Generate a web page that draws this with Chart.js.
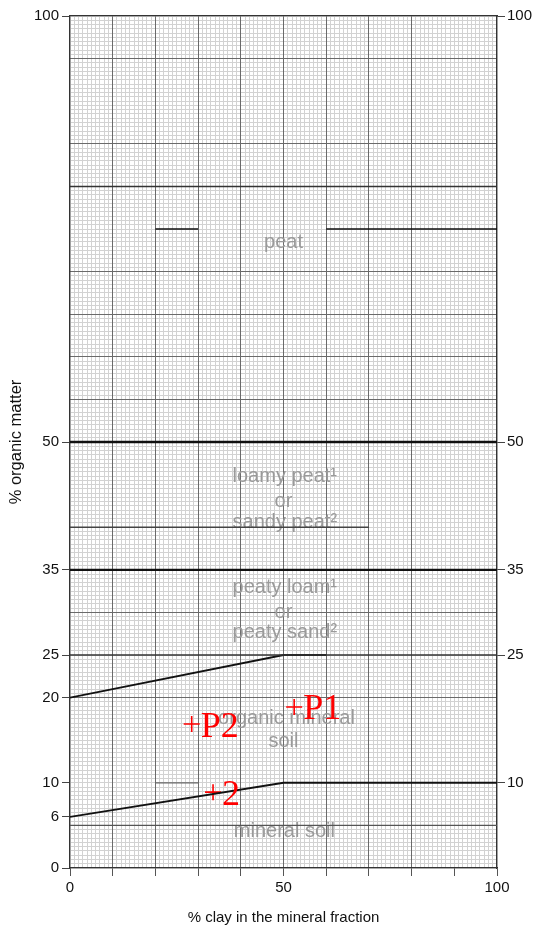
<!DOCTYPE html>
<html>
<head>
<meta charset="utf-8">
<script src="https://cdn.jsdelivr.net/npm/chart.js@4.4.1/dist/chart.umd.min.js"></script>
<style>
html,body{margin:0;padding:0;background:#fff;}
canvas{display:block;}
</style>
</head>
<body>
<canvas id="c" width="534" height="927" style="width:534px;height:927px"></canvas>
<script>
// ---------- data ----------
const xTickValues = [0, 10, 20, 30, 40, 50, 60, 70, 80, 90, 100];
const xLabelValues = [0, 50, 100];
const yLeftTicks = [0, 6, 10, 20, 25, 35, 50, 100];
const yRightTicks = [10, 25, 35, 50, 100];
const gridMediumX = [10, 20, 30, 40, 50, 60, 70, 80];
const gridMediumY = [5, 20, 30, 55, 60, 65, 70, 80, 85, 95];

// class boundaries (x = % clay, y = % organic matter)
const upperBoundX = [0, 50, 60];
const upperBoundY = [20, 25, 25];
const lowerBoundX = [0, 50, 100];
const lowerBoundY = [6, 10, 10];
const level50X = [0, 100];
const level50Y = [50, 50];
const level35X = [0, 100];
const level35Y = [35, 35];
const level25X = [0, 100];
const level25Y = [25, 25];
const level80X = [0, 100];
const level80Y = [80, 80];
const level75X = [20, 30, 45, 60, 100];
const level75Y = [75, 75, null, 75, 75];
const level40X = [0, 70];
const level40Y = [40, 40];
const level10X = [20, 30];
const level10Y = [10, 10];
const level5X = [0, 100];
const level5Y = [5, 5];

// sample points
const sampleNames = ['P1', 'P2', '2'];
const sampleClay = [52.5, 28.5, 33.5];
const sampleOM = [18.9, 16.9, 8.9];

// region labels
const regionText = ['peat', 'loamy peat\u00b9', 'or', 'sandy peat\u00b2', 'peaty loam\u00b9', 'or', 'peaty sand\u00b2', 'organic mineral', 'soil', 'mineral soil'];
const regionX = [50, 50.3, 50, 50.3, 50.3, 50, 50.3, 50.7, 50, 50.2];
const regionY = [73.4, 45.9, 43.0, 40.5, 32.9, 30.0, 27.6, 17.6, 14.9, 4.3];

// ---------- chart ----------
const SANS = "'Liberation Sans', Arial, sans-serif";
const SERIF = "'Liberation Serif', 'Times New Roman', serif";

function pts(xs, ys) { return xs.map((x, i) => ({ x: x, y: ys[i] })); }
function lineDs(xs, ys, color, width) {
  return { type: 'line', data: pts(xs, ys), borderColor: color, borderWidth: width,
    pointRadius: 0, fill: false, tension: 0, spanGaps: false, xAxisID: 'x', yAxisID: 'y' };
}

const regionLabelPlugin = {
  id: 'regionLabels',
  beforeDatasetsDraw(chart) {
    const ctx = chart.ctx, sx = chart.scales.x, sy = chart.scales.y;
    ctx.save();
    ctx.font = '20px ' + SANS;
    ctx.fillStyle = '#9a9a9a';
    ctx.textAlign = 'center';
    ctx.textBaseline = 'middle';
    regionText.forEach((t, i) => {
      ctx.fillText(t, sx.getPixelForValue(regionX[i]), sy.getPixelForValue(regionY[i]));
    });
    ctx.restore();
  }
};

const sampleLabelPlugin = {
  id: 'sampleLabels',
  afterDatasetsDraw(chart) {
    const ctx = chart.ctx, sx = chart.scales.x, sy = chart.scales.y;
    ctx.save();
    ctx.font = '36px ' + SERIF;
    ctx.fillStyle = '#ff0000';
    ctx.textAlign = 'left';
    ctx.textBaseline = 'alphabetic';
    sampleNames.forEach((n, i) => {
      ctx.fillText(n, sx.getPixelForValue(sampleClay[i]) + 9, sy.getPixelForValue(sampleOM[i]) + 12.5);
    });
    ctx.restore();
  }
};

const tickFont = { family: SANS, size: 15 };

new Chart(document.getElementById('c'), {
  type: 'scatter',
  data: {
    datasets: [
      lineDs(level5X, level5Y, '#555555', 1.3),
      lineDs(level10X, level10Y, '#666666', 1.2),
      lineDs(level40X, level40Y, '#444444', 1.4),
      lineDs(level80X, level80Y, '#333333', 1.5),
      lineDs(level25X, level25Y, '#333333', 1.6),
      lineDs(level75X, level75Y, '#111111', 1.6),
      lineDs(level35X, level35Y, '#111111', 2.2),
      lineDs(level50X, level50Y, '#111111', 2.4),
      lineDs(upperBoundX, upperBoundY, '#111111', 1.9),
      lineDs(lowerBoundX, lowerBoundY, '#111111', 1.9),
      { type: 'scatter', data: pts(sampleClay, sampleOM), pointStyle: 'cross', pointRadius: 8,
        pointBorderColor: '#ff0000', borderColor: '#ff0000', pointBorderWidth: 1.6, borderWidth: 1.6,
        backgroundColor: '#ff0000', xAxisID: 'x', yAxisID: 'y' }
    ]
  },
  options: {
    responsive: false,
    animation: false,
    devicePixelRatio: 1,
    layout: { padding: { top: 16, left: 0, right: 0, bottom: 0 } },
    plugins: { legend: { display: false }, tooltip: { enabled: false } },
    events: [],
    scales: {
      x: {
        type: 'linear', position: 'bottom', min: 0, max: 100,
        afterBuildTicks: s => { s.ticks = xTickValues.map(v => ({ value: v })); },
        ticks: { autoSkip: false, maxRotation: 0, padding: 3, color: '#111', font: tickFont,
          callback: v => xLabelValues.includes(v) ? String(v) : '' },
        grid: { drawOnChartArea: false, drawTicks: true, tickLength: 8, color: '#555', lineWidth: 1 },
        border: { display: true, color: '#333', width: 1.3 },
        title: { display: true, text: '% clay in the mineral fraction', color: '#111', font: { family: SANS, size: 15 }, padding: { top: 0, bottom: 0 } },
        afterFit: s => { s.height = 59; s.paddingLeft = 0; s.paddingRight = 0; }
      },
      y: {
        type: 'linear', position: 'left', min: 0, max: 100,
        afterBuildTicks: s => { s.ticks = yLeftTicks.map(v => ({ value: v })); },
        ticks: { autoSkip: false, padding: 3, color: '#111', font: tickFont },
        grid: { drawOnChartArea: false, drawTicks: true, tickLength: 8, color: '#444', lineWidth: 1 },
        border: { display: true, color: '#333', width: 1.3 },
        title: { display: true, text: '% organic matter', color: '#111', font: { family: SANS, size: 16.5 }, padding: { top: 7, bottom: 0 } },
        afterFit: s => { s.width = 70; s.paddingTop = 0; s.paddingBottom = 0; }
      },
      y2: {
        type: 'linear', position: 'right', min: 0, max: 100,
        afterBuildTicks: s => { s.ticks = yRightTicks.map(v => ({ value: v })); },
        ticks: { autoSkip: false, padding: 2, color: '#111', font: tickFont },
        grid: { drawOnChartArea: false, drawTicks: true, tickLength: 8, color: '#444', lineWidth: 1 },
        border: { display: true, color: '#333', width: 1.3 },
        afterFit: s => { s.width = 37; s.paddingTop = 0; s.paddingBottom = 0; }
      },
      xTop: {
        type: 'linear', position: 'top', min: 0, max: 100,
        afterBuildTicks: s => { s.ticks = gridMediumX.map(v => ({ value: v })); },
        ticks: { display: false },
        grid: { z: -2, drawOnChartArea: true, drawTicks: false, color: '#6a6a6a', lineWidth: 1 },
        border: { display: true, color: '#333', width: 1.3 },
        afterFit: s => { s.height = 0; s.paddingLeft = 0; s.paddingRight = 0; }
      },
      yMid: {
        type: 'linear', position: 'left', min: 0, max: 100,
        afterBuildTicks: s => { s.ticks = gridMediumY.map(v => ({ value: v })); },
        ticks: { display: false },
        grid: { z: -2, drawOnChartArea: true, drawTicks: false, color: '#6a6a6a', lineWidth: 1 },
        border: { display: false },
        afterFit: s => { s.width = 0; s.paddingTop = 0; s.paddingBottom = 0; }
      },
      xFine: {
        type: 'linear', position: 'bottom', min: 0, max: 100,
        ticks: { display: false, stepSize: 1, autoSkip: false },
        grid: { z: -3, drawOnChartArea: true, drawTicks: false, color: '#d2d2d2', lineWidth: 1 },
        border: { display: false },
        afterFit: s => { s.height = 0; s.paddingLeft = 0; s.paddingRight = 0; }
      },
      yFine: {
        type: 'linear', position: 'left', min: 0, max: 100,
        ticks: { display: false, stepSize: 0.5, autoSkip: false },
        grid: { z: -3, drawOnChartArea: true, drawTicks: false, color: '#d2d2d2', lineWidth: 1 },
        border: { display: false },
        afterFit: s => { s.width = 0; s.paddingTop = 0; s.paddingBottom = 0; }
      }
    }
  },
  plugins: [regionLabelPlugin, sampleLabelPlugin]
});
</script>
</body>
</html>
